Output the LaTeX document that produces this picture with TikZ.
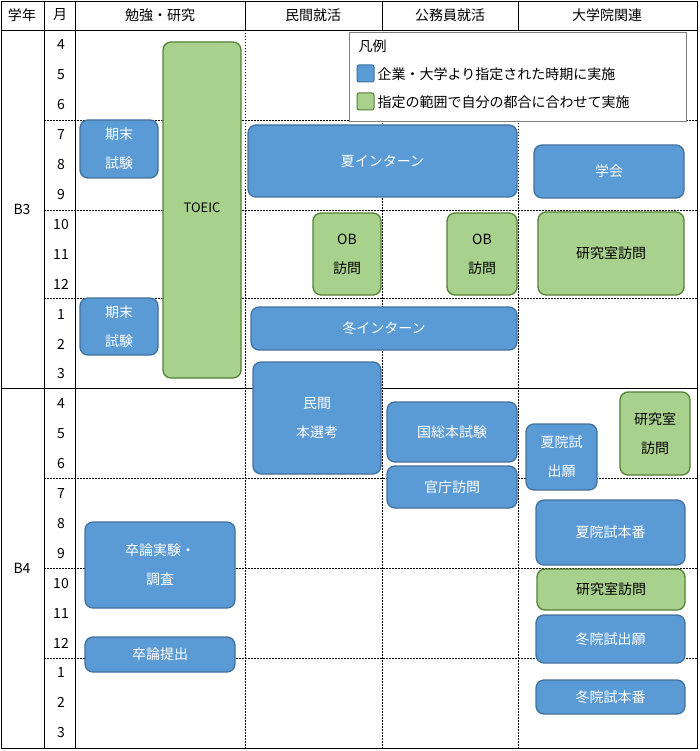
\documentclass[tikz,border=0pt]{standalone}
\usepackage{fontspec}
\setmainfont{Noto Sans CJK JP}
\usetikzlibrary{calc}

\definecolor{bfill}{HTML}{5B9BD5}
\definecolor{bline}{HTML}{41719C}
\definecolor{gfill}{HTML}{A9D18E}
\definecolor{gline}{HTML}{538135}
\tikzset{
  box/.style={rounded corners=8pt,line width=1.3pt,inner sep=0pt,align=center,
    font=\fontsize{14}{29}\selectfont},
  bbox/.style={box,fill=bfill,draw=bline,text=white},
  gbox/.style={box,fill=gfill,draw=gline,text=black},
  grid/.style={black,line width=0.8pt},
  qline/.style={black,line width=0.6pt,dash pattern=on 1.5pt off 1.5pt},
}
\newcommand{\ybox}[7]{% style, name, x1, y1, x2, y2, text
  \node[#1,minimum width=#5pt-#3pt,minimum height=#6pt-#4pt] (#2) at ({(#3+#5)/2},{(#4+#6)/2}) {#7};}

\begin{document}
\begin{tikzpicture}[x=1pt,y=-1pt,font=\fontsize{14}{17}\selectfont]
\useasboundingbox (0,0) rectangle (700,751);
% table frame
\draw[grid] (1,1) rectangle (697,748);
\draw[grid] (1,30) -- (697,30);
\draw[grid] (1,388) -- (697,388);
\foreach \x in {44,75} \draw[grid] (\x,1) -- (\x,748);
\foreach \x in {245,382,518} {
  \draw[grid] (\x,1) -- (\x,30);
  \draw[qline] (\x,30) -- (\x,748);
}
\foreach \y in {120,210,298,478,568,658} \draw[qline] (44,\y) -- (697,\y);
% header
\node (hg) at (22,15) {学年};
\node (hm) at (60,15) {月};
\node (hs) at (160,15) {勉強・研究};
\node (hp) at (313,15) {民間就活};
\node (hk) at (450,15) {公務員就活};
\node (hd) at (607,15) {大学院関連};
\node (b3) at (22,209) {B3};
\node (b4) at (22,568) {B4};
\foreach \m [count=\i from 0] in {4,5,6,7,8,9,10,11,12,1,2,3,4,5,6,7,8,9,10,11,12,1,2,3}
  \node (m\i) at (61,{45+29.9*\i}) {\m};
% legend
\draw[gray,line width=0.8pt,fill=white] (349,32) rectangle (686,121);
\node[anchor=west] (lg) at (355,46) {凡例};
\draw[bline,fill=bfill,rounded corners=2pt,line width=1pt] (357,65) rectangle (374,82);
\node[anchor=west] (lb) at (374,74) {企業・大学より指定された時期に実施};
\draw[gline,fill=gfill,rounded corners=2pt,line width=1pt] (357,93) rectangle (374,110);
\node[anchor=west] (lgr) at (374,102) {指定の範囲で自分の都合に合わせて実施};
% study
\ybox{bbox}{ex1}{80}{120}{158}{178}{期末\\試験}
\ybox{gbox}{toeic}{163}{42}{241}{378}{}
\node[font=\fontsize{13}{15}\selectfont] (tt) at (202,208) {TOEIC};
\ybox{bbox}{ex2}{80}{298}{158}{355}{期末\\試験}
\ybox{bbox}{sot}{85}{522}{235}{608}{卒論実験・\\調査}
\ybox{bbox}{sub}{85}{637}{235}{672}{卒論提出}
% private
\ybox{bbox}{sint}{248}{125}{517}{197}{夏インターン}
\ybox{gbox}{ob1}{313}{213}{381}{295}{OB\\訪問}
\ybox{bbox}{wint}{251}{307}{517}{350}{冬インターン}
\ybox{bbox}{sel}{253}{362}{381}{474}{民間\\本選考}
% public
\ybox{gbox}{ob2}{447}{213}{517}{295}{OB\\訪問}
\ybox{bbox}{kok}{387}{402}{517}{462}{国総本試験}
\ybox{bbox}{kan}{387}{466}{517}{508}{官庁訪問}
% graduate school
\ybox{bbox}{gak}{534}{145}{684}{198}{学会}
\ybox{gbox}{lab1}{538}{212}{684}{295}{研究室訪問}
\ybox{bbox}{sapp}{526}{424}{597}{490}{夏院試\\出願}
\ybox{gbox}{lab2}{620}{392}{690}{475}{研究室\\訪問}
\ybox{bbox}{sexm}{536}{500}{685}{565}{夏院試本番}
\ybox{gbox}{lab3}{537}{569}{685}{610}{研究室訪問}
\ybox{bbox}{wapp}{536}{615}{685}{663}{冬院試出願}
\ybox{bbox}{wexm}{536}{680}{685}{714}{冬院試本番}
\end{tikzpicture}
\end{document}
